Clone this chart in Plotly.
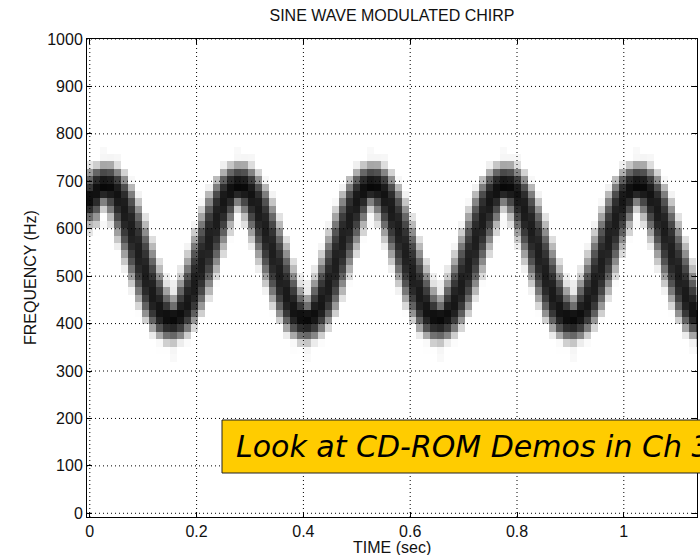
import numpy as np
import plotly.graph_objects as go

# ---- data ----
# ridge (centre) frequency of the chirp in each spectrogram frame, Hz
ridge_hz = [
    657, 683, 694, 691, 671, 639, 597, 550, 503, 461, 428, 409, 405, 417, 443, 481, 526, 574, 619,
    657, 683, 694, 691, 671, 639, 597, 550, 503, 461, 428, 409, 405, 417, 443, 481, 526, 574, 619,
    657, 683, 694, 691, 671, 639, 597, 550, 503, 461, 428, 409, 405, 417, 443, 481, 526, 574, 619,
    657, 683, 694, 691, 671, 639, 597, 550, 503, 461, 428, 409, 405, 417, 443, 481, 526, 574, 619,
    657, 683, 694, 691, 671, 639, 597, 550, 503, 461, 428, 409,
]
sample_rate = 8000
hop_samples = 105               # frame step (≈0.0131 s)
window_samples = 560
window_sigma = 90               # Gaussian analysis window, samples
bin_hz = 15.625                 # frequency resolution of the display
n_bins = 65                     # 0 .. 1000 Hz
dynamic_range_db = 48

x_ticks = [0, 0.2, 0.4, 0.6, 0.8, 1.0]
x_tick_labels = ["0", "0.2", "0.4", "0.6", "0.8", "1"]
y_ticks = [0, 100, 200, 300, 400, 500, 600, 700, 800, 900, 1000]
y_tick_labels = [str(v) for v in y_ticks]

title_text = "SINE WAVE MODULATED CHIRP"
x_title = "TIME (sec)"
y_title = "FREQUENCY (Hz)"
note_text = "Look at CD-ROM Demos in Ch 3"

# ---- spectrogram of a tone following the read ridge ----
n = len(ridge_hz)
frame_step_s = hop_samples / sample_rate
times = np.arange(n) * frame_step_s
half = window_samples // 2
t_sig = np.arange(-half, n * hop_samples + half) / sample_rate
f_inst = np.interp(t_sig, times, ridge_hz)
phase = 2 * np.pi * np.cumsum(f_inst) / sample_rate
sig = np.cos(phase)
nn = np.arange(window_samples) - (window_samples - 1) / 2
win = np.exp(-0.5 * (nn / window_sigma) ** 2)
fft_size = 1024
step = int(round(sample_rate / fft_size and (sample_rate / bin_hz) / fft_size))
spec = np.zeros((n_bins, n))
for k in range(n):
    c = k * hop_samples + half
    seg = sig[c - half:c + half] * win
    X = np.fft.rfft(seg, fft_size)[::2][:n_bins]
    spec[:, k] = 20 * np.log10(np.abs(X) + 1e-9)
spec -= spec.max()
z = np.clip(1 + spec / dynamic_range_db, 0, 1)
freqs = np.arange(n_bins) * bin_hz

W, H = 700, 555
L, R, T, B = 87, 3, 39, 38
pw, ph = W - L - R, H - T - B
x_min = -2.8 / 534.0
x_max = x_min + pw / 534.0
y_min, y_max = -bin_hz / 2, 1000

def px_x(p):
    return (p - L) / pw

def px_y(p):
    return (H - B - p) / ph

fig = go.Figure()
fig.add_trace(go.Heatmap(
    x=times, y=freqs, z=z, zmin=0, zmax=1,
    colorscale=[[0, "#ffffff"], [0.1, "#f2f2f2"], [0.3, "#c4c4c4"], [0.5, "#8c8c8c"],
                [0.7, "#505050"], [0.85, "#2a2a2a"], [1, "#080808"]],
    showscale=False, hoverinfo="skip",
))

font_family = "Liberation Sans, Arial, sans-serif"
fig.update_layout(
    width=W, height=H,
    margin=dict(l=L, r=R, t=T, b=B),
    paper_bgcolor="white", plot_bgcolor="white",
    showlegend=False,
    title=dict(text=title_text, x=px_x(392), xref="paper", xanchor="center",
               y=1 - 15 / H, yref="container", yanchor="middle",
               font=dict(family=font_family, size=16, color="#111111")),
    font=dict(family=font_family, size=16, color="#111111"),
)
fig.update_xaxes(range=[x_min, x_max], tickvals=x_ticks, ticktext=x_tick_labels,
                 showgrid=False, zeroline=False, showline=True, linecolor="black", linewidth=1,
                 mirror="ticks", ticks="inside", ticklen=5, tickcolor="black",
                 tickfont=dict(family=font_family, size=16, color="#111111"))
fig.update_yaxes(range=[y_min, y_max], tickvals=y_ticks, ticktext=y_tick_labels,
                 showgrid=False, zeroline=False, showline=True, linecolor="black", linewidth=1,
                 mirror="ticks", ticks="inside", ticklen=5, tickcolor="black",
                 tickfont=dict(family=font_family, size=16, color="#111111"))

shapes = []
for xv in x_ticks:
    shapes.append(dict(type="line", xref="x", yref="paper", x0=xv, x1=xv, y0=0, y1=1,
                       line=dict(color="black", width=1, dash="1px,3px"), layer="above"))
for yv in y_ticks:
    shapes.append(dict(type="line", xref="paper", yref="y", x0=0, x1=1, y0=yv, y1=yv,
                       line=dict(color="black", width=1, dash="1px,3px"), layer="above"))
# note box
shapes.append(dict(type="rect", xref="paper", yref="paper",
                   x0=px_x(222), x1=px_x(710), y0=px_y(473), y1=px_y(420),
                   fillcolor="#FFCC00", line=dict(color="#222222", width=1), layer="above"))
fig.update_layout(shapes=shapes)

fig.add_annotation(text=note_text, xref="paper", yref="paper", x=px_x(234), y=px_y(446),
                   xanchor="left", yanchor="middle", showarrow=False,
                   font=dict(family="DejaVu Sans, Verdana, sans-serif", size=30, color="black",
                             style="italic"))
fig.add_annotation(text=x_title, xref="paper", yref="paper", x=px_x(392), y=px_y(547),
                   xanchor="center", yanchor="middle", showarrow=False,
                   font=dict(family=font_family, size=16, color="#111111"))
fig.add_annotation(text=y_title, xref="paper", yref="paper", x=px_x(30), y=px_y(278),
                   xanchor="center", yanchor="middle", showarrow=False, textangle=-90,
                   font=dict(family=font_family, size=16, color="#111111"))

fig.write_html("out.html", config={"displayModeBar": False},
               post_script="document.body.style.margin='0';document.body.style.overflow='hidden';")
